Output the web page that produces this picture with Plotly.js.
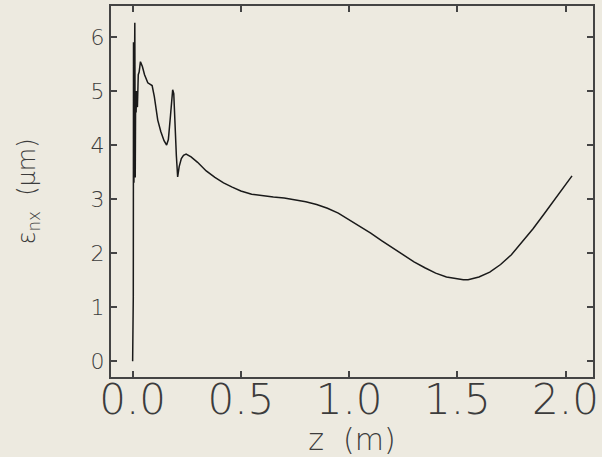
<!DOCTYPE html>
<html>
<head>
<meta charset="utf-8">
<script src="https://cdn.plot.ly/plotly-3.0.1.min.js"></script>
<style>html,body{margin:0;padding:0;background:#EDEAE0;}#chart{width:602px;height:457px;}</style>
</head>
<body>
<div id="chart"></div>
<script>
// z position (m)
var zPos = [0.000, 0.002, 0.0025, 0.003, 0.004, 0.006, 0.008, 0.010, 0.012, 0.014, 0.016, 0.018, 0.022, 0.026, 0.030,
  0.036, 0.045, 0.055, 0.070, 0.080, 0.090, 0.100, 0.116, 0.130, 0.145, 0.157, 0.165, 0.175, 0.180, 0.185, 0.190, 0.196, 0.202, 0.208,
  0.215, 0.225, 0.235, 0.247, 0.270, 0.300, 0.340, 0.380, 0.420, 0.460, 0.500, 0.550, 0.600, 0.650, 0.700, 0.750,
  0.800, 0.850, 0.900, 0.950, 1.000, 1.050, 1.100, 1.150, 1.200, 1.250, 1.300, 1.350, 1.400, 1.450, 1.500, 1.528,
  1.550, 1.600, 1.650, 1.700, 1.750, 1.800, 1.850, 1.900, 1.950, 2.000, 2.030];
// normalized emittance (um)
var epsNx = [0.00, 1.10, 1.10, 1.20, 5.90, 3.30, 5.00, 6.26, 3.40, 5.00, 4.60, 5.00, 4.70, 5.30, 5.35,
  5.54, 5.45, 5.30, 5.15, 5.12, 5.10, 4.90, 4.46, 4.25, 4.08, 4.00, 4.10, 4.55, 4.85, 5.02, 4.95, 4.30, 3.80, 3.41,
  3.60, 3.75, 3.81, 3.83, 3.78, 3.68, 3.52, 3.40, 3.30, 3.22, 3.15, 3.09, 3.06, 3.04, 3.02, 2.99,
  2.95, 2.90, 2.83, 2.74, 2.62, 2.50, 2.37, 2.23, 2.10, 1.97, 1.84, 1.73, 1.63, 1.56, 1.52, 1.51,
  1.51, 1.56, 1.65, 1.79, 1.97, 2.20, 2.45, 2.72, 3.00, 3.26, 3.43];
var xTicks = [0.0, 0.5, 1.0, 1.5, 2.0];
var xTickText = ['0.0', '0.5', '1.0', '1.5', '2.0'];
var yTicks = [0, 1, 2, 3, 4, 5, 6];
var yTickText = ['0', '1', '2', '3', '4', '5', '6'];

var trace = {
  x: zPos, y: epsNx, type: 'scatter', mode: 'lines',
  line: {color: '#1a1a1a', width: 1.5, shape: 'linear'},
  hoverinfo: 'none'
};
var bg = '#EDEAE0';
var txt = '#3c3c3c';
var fam = 'DejaVu Sans';
var layout = {
  width: 602, height: 457,
  paper_bgcolor: bg, plot_bgcolor: bg,
  margin: {l: 111, r: 9, t: 6, b: 80},
  showlegend: false,
  font: {family: fam, color: txt, weight: 200},
  xaxis: {
    range: [-0.1, 2.127],
    tickvals: xTicks, ticktext: xTickText,
    ticks: 'inside', ticklen: 6, tickwidth: 2, tickcolor: '#444',
    showline: true, linecolor: '#444', linewidth: 2, mirror: 'ticks',
    showgrid: false, zeroline: false,
    ticklabelstandoff: -15,
    tickfont: {size: 42, color: txt, family: fam, weight: 200},
    title: {text: 'z  (m)', font: {size: 30, color: txt, family: fam, weight: 200}, standoff: 0}
  },
  yaxis: {
    range: [-0.29, 6.57],
    tickvals: yTicks, ticktext: yTickText,
    ticks: 'inside', ticklen: 6, tickwidth: 2, tickcolor: '#444',
    showline: true, linecolor: '#444', linewidth: 2, mirror: 'ticks',
    showgrid: false, zeroline: false,
    tickfont: {size: 22, color: txt, family: fam, weight: 200},
    title: {text: 'ε<sub>nx</sub>  (μm)', font: {size: 24, color: txt, family: fam, weight: 200}, standoff: 48}
  }
};
Plotly.newPlot('chart', [trace], layout, {displayModeBar: false, staticPlot: true});
</script>
</body>
</html>
